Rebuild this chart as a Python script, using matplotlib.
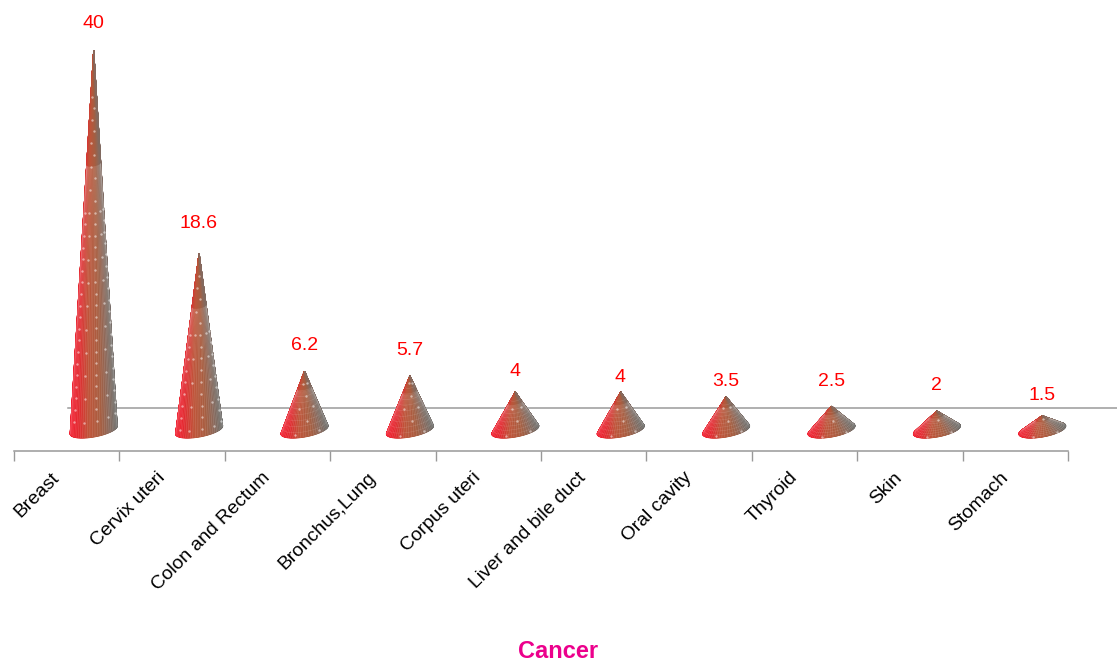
import numpy as np
import matplotlib
matplotlib.use('Agg')
import matplotlib.pyplot as plt
from matplotlib.colors import LinearSegmentedColormap
from matplotlib.collections import LineCollection

categories = ['Breast', 'Cervix uteri', 'Colon and Rectum', 'Bronchus,Lung', 'Corpus uteri',
              'Liver and bile duct', 'Oral cavity', 'Thyroid', 'Skin', 'Stomach']
values = [40, 18.6, 6.2, 5.7, 4, 4, 3.5, 2.5, 2, 1.5]
value_labels = ['40', '18.6', '6.2', '5.7', '4', '4', '3.5', '2.5', '2', '1.5']

plt.rcParams['font.family'] = ['Liberation Sans', 'DejaVu Sans']

W, H = 1117, 661
PX_X = 105.4   # pixels for one category
PX_Y = 9.49    # pixels for one unit of value

fig = plt.figure(figsize=(W / 100, H / 100), dpi=100, facecolor='white')
ax = fig.add_axes([14 / W, (H - 451) / H, (1068 - 14) / W, 451 / H])
ax.set_xlim(-0.5, 9.5)
ax.set_ylim(-21 / PX_Y, 430 / PX_Y)

# cone shape, in data units
depth = 27 / PX_X
a = 23.5 / PX_X
tilt = 4 / PX_Y
b = 7 / PX_Y

cone_cmap = LinearSegmentedColormap.from_list('cone', [
    (0.00, '#f41a2c'), (0.18, '#e42a30'), (0.40, '#c0553a'),
    (0.66, '#a85f42'), (0.85, '#8a6a5e'), (1.00, '#6c6a68')])


def draw_cone(i, h):
    cx = i + depth
    gap = np.arcsin(min(b / h, 1))
    theta = np.linspace(np.pi - gap, 2 * np.pi + gap, 120)
    t = np.linspace(0, 1, 50)
    T, TH = np.meshgrid(t, theta)
    X = cx + T * a * np.cos(TH)
    Y = h * (1 - T) + T * (tilt * np.cos(TH) + b * np.sin(TH))
    u = (1 + np.cos(TH)) / 2
    C = u * (0.5 + 0.5 * T) + (1 - T) * 0.35
    ax.pcolormesh(X, Y, C, cmap=cone_cmap, vmin=0, vmax=1, shading='gouraud',
                  rasterized=True, zorder=3)

    # streaks down the cone, not up to the apex where they would pile up
    th = np.linspace(theta[0], theta[-1], 30)
    segs = []
    for v in th:
        x_end, y_end = a * np.cos(v), tilt * np.cos(v) + b * np.sin(v)
        segs.append([(cx + 0.3 * x_end, h * 0.7 + 0.3 * y_end), (cx + x_end, y_end)])
    ax.add_collection(LineCollection(segs, colors='white', linewidths=0.4, alpha=0.17, zorder=4))

    # rings round the cone, these show on the short ones
    if h < 8:
        for tr in np.arange(0.2, 1.0, 0.09):
            ax.plot(cx + tr * a * np.cos(theta),
                    h * (1 - tr) + tr * (tilt * np.cos(theta) + b * np.sin(theta)),
                    color='white', lw=0.4, alpha=0.16, zorder=4)

    # rows of small dots
    dots_x, dots_y = [], []
    rows = np.arange(0.96, 0.1, -1.2 / h)
    for j, tr in enumerate(rows):
        ths = np.linspace(np.pi + 0.55, 2 * np.pi - 0.3, 5)
        if j % 2:
            ths = ths[::2]
        if h < 8:
            ths = ths[1::2]
        elif tr < 0.4:
            ths = ths[1:2]
        for v in ths:
            dots_x.append(cx + tr * a * np.cos(v))
            dots_y.append(h * (1 - tr) + tr * (tilt * np.cos(v) + b * np.sin(v)))
    ax.scatter(dots_x, dots_y, s=3, color='white', alpha=0.5, linewidths=0, zorder=5)


# back line
ax.plot([0.012, 9.965], [22 / PX_Y, 22 / PX_Y], color='#9a9a9a', lw=1.1, clip_on=False, zorder=1)

# gap in pixels between each apex and its label
label_gap = [27, 30, 26, 25, 21, 15, 15, 25, 26, 20]
for i, v in enumerate(values):
    draw_cone(i, v)
    ax.annotate(value_labels[i], (i + depth, v), xytext=(-0.3, label_gap[i] * 0.72),
                textcoords='offset points', ha='center', va='center',
                color='#ff0000', fontsize=14)

for s in ['top', 'left', 'right']:
    ax.spines[s].set_visible(False)
ax.spines['bottom'].set_color('#999999')
ax.spines['bottom'].set_linewidth(1.1)
ax.set_yticks([])

ax.set_xticks(np.arange(-0.5, 10, 1))
ax.set_xticklabels([])
ax.tick_params(axis='x', which='major', length=7.5, width=1, color='#999999')
ax.set_xticks(np.arange(10) - 0.152, minor=True)
ax.set_xticklabels(categories, minor=True, rotation=45, ha='right', va='top',
                   rotation_mode='anchor', fontsize=13.9, color='black')
ax.tick_params(axis='x', which='minor', length=0, pad=13)

fig.text(558 / W, 1 - 651 / H, 'Cancer', ha='center', va='center', color='#ec008c',
         fontsize=17, fontweight='bold')

fig.savefig('out.png', dpi=100)
